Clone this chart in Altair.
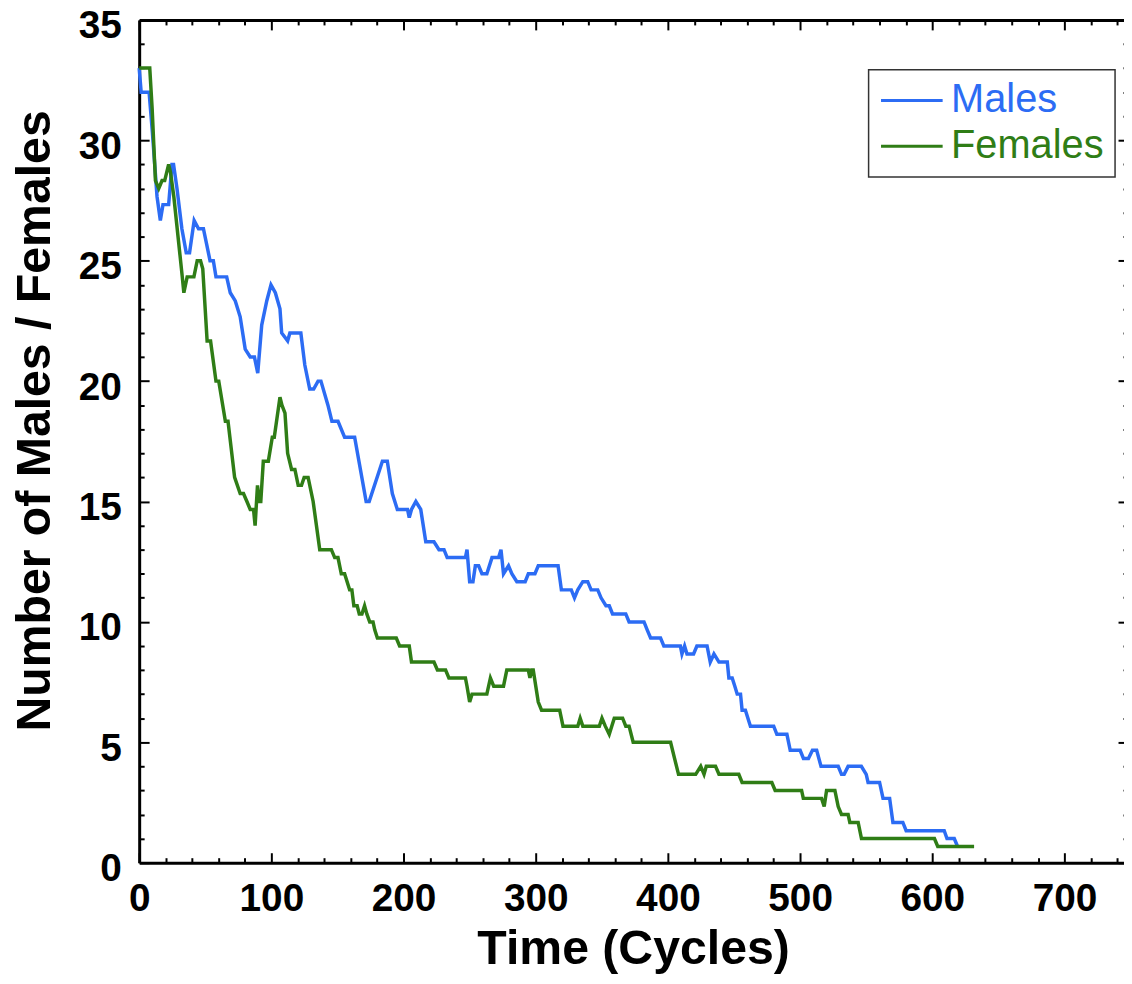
import altair as alt
import pandas as pd

# ---- data ----
males_t = [0, 1.5, 7.5, 10, 13.5, 16, 18, 22.3, 24.8, 26, 28.6, 32.3, 35.6, 38.1, 41.6, 44.9,
           48.6, 51.1, 53.6, 56.1, 58.1, 66.2, 68.9, 72.7, 76.4, 80.2, 84, 87.2, 89.7, 92.7,
           96.5, 99.7, 103, 106.5, 107.8, 112.3, 114, 122.3, 125.3, 129, 132, 135.3, 137.5,
           142.8, 145.8, 150.4, 155.4, 163, 171.7, 174, 184, 187.7, 191.5, 195.3, 203, 204.3,
           206, 209.3, 213, 216.8, 223, 226.8, 230.6, 233, 246.8, 248, 250, 252.5, 254.3, 256.8,
           259.3, 263, 266.9, 271.9, 273.7, 275.6, 279.4, 281.9, 285.7, 292, 294.4, 299.4, 301.9,
           316.9, 319.4, 326.9, 329.3, 331.8, 335.6, 339.3, 341.9, 346.9, 349.4, 353.1, 355.6,
           358.1, 368.1, 370.6, 381.9, 384.3, 386.9, 394.4, 396.9, 409.4, 410.6, 412.6, 414.4,
           419.4, 421.9, 429.6, 432, 434.8, 438.6, 444.9, 446.1, 448.6, 450.6, 452.4, 454.9,
           456.1, 458.6, 462.4, 480, 482.4, 490, 492.5, 500, 502.5, 506.3, 509.3, 512.5, 515.8,
           528.8, 531.3, 533.3, 536.3, 546.3, 550, 551.4, 560.1, 562.7, 567.7, 570.2, 577.7,
           580.2, 609, 611.1, 616.6, 619.1]
males_n = [33, 32, 32, 30.33, 27.67, 26.67, 27.33, 27.33, 29, 29, 28, 26.33, 25.33, 25.33, 26.67,
           26.33, 26.33, 25.67, 25, 25, 24.33, 24.33, 23.67, 23.33, 22.67, 21.33, 21, 21, 20.33,
           22.33, 23.33, 24, 23.67, 23, 22, 21.67, 22, 22, 20.67, 19.67, 19.67, 20, 20, 19, 18.33,
           18.33, 17.67, 17.67, 15, 15, 16.67, 16.67, 15.33, 14.67, 14.67, 14.33, 14.67, 15, 14.67,
           13.33, 13.33, 13, 13, 12.67, 12.67, 13, 11.67, 11.67, 12.33, 12.33, 12, 12, 12.67, 12.67,
           13, 12, 12.33, 12, 11.67, 11.67, 12, 12, 12.33, 12.33, 11.33, 11.33, 11, 11.33, 11.67,
           11.67, 11.33, 11.33, 11, 10.67, 10.67, 10.33, 10.33, 10, 10, 9.67, 9.33, 9.33, 9, 9,
           8.67, 9, 8.67, 8.67, 9, 9, 8.33, 8.67, 8.33, 8.33, 7.67, 7.67, 7.33, 7, 7, 6.33, 6.33,
           5.67, 5.67, 5.33, 5.33, 4.67, 4.67, 4.33, 4.33, 4.67, 4.67, 4, 4, 3.67, 3.67, 4, 4, 3.67,
           3.33, 3.33, 2.67, 2.67, 1.67, 1.67, 1.33, 1.33, 1, 1, 0.67]

females_t = [0, 8, 9.8, 12.3, 14.8, 17.3, 19.3, 22.3, 23.7, 26.2, 32.6, 33.8, 36.3, 41.4, 43.9,
             46.4, 48.1, 51.4, 54, 58.1, 60.2, 65.2, 67.2, 72.2, 76.4, 78.9, 81.5, 84, 86.5, 87.7,
             89.5, 90.7, 92, 93.9, 97.7, 100.7, 102.2, 106.5, 108, 110.3, 112.3, 115.3, 117.8,
             120.3, 122.8, 124.8, 127.8, 131.6, 136.6, 145.4, 147.9, 150.4, 152.9, 155.4, 159.2,
             160.9, 162.4, 164.9, 166.5, 168.5, 170.5, 172.2, 174.4, 176.9, 178.2, 180.2, 194.5,
             197, 204.3, 206, 223, 225.6, 231.8, 234.3, 246.8, 248, 250, 251.8, 263, 265.7, 268.2,
             275.6, 278.1, 294.4, 295.6, 296.9, 298.1, 301.9, 304.4, 318.1, 320.6, 331.8, 333.6,
             335.6, 348.1, 350.1, 352.6, 355.6, 359.4, 365.7, 368.1, 370.6, 373.7, 402, 405, 408,
             421, 424.8, 427.3, 429, 436, 438.6, 453.6, 456.1, 478.6, 481.1, 501.1, 502.4, 516.2,
             518.2, 520, 526.3, 528.8, 531.3, 536.3, 537.6, 543.9, 546.4, 601.6, 604.1, 631.6]
females_n = [33, 33, 31.33, 28.33, 28, 28.33, 28.33, 29, 28.67, 27.67, 24.33, 23.67, 24.33, 24.33,
             25, 25, 24.67, 21.67, 21.67, 20, 20, 18.33, 18.33, 16, 15.33, 15.33, 15, 14.67, 14.67,
             14, 15.67, 15, 15, 16.67, 16.67, 17.67, 17.67, 19.33, 19, 18.67, 17, 16.33, 16.33,
             15.67, 15.67, 16, 16, 15, 13, 13, 12.67, 12.67, 12, 12, 11.33, 11.33, 10.67, 10.67,
             10.33, 10.33, 10.67, 10.33, 10, 10, 9.67, 9.33, 9.33, 9, 9, 8.33, 8.33, 8, 8, 7.67,
             7.67, 7.33, 6.67, 7, 7, 7.67, 7.33, 7.33, 8, 8, 7.67, 8, 8, 6.67, 6.33, 6.33, 5.67,
             5.67, 6, 5.67, 5.67, 6, 5.67, 5.33, 6, 6, 5.67, 5.67, 5, 5, 4.33, 3.67, 3.67, 4, 3.67,
             4, 4, 3.67, 3.67, 3.33, 3.33, 3, 3, 2.67, 2.67, 2.33, 3, 3, 2.33, 2, 2, 1.67, 1.67, 1,
             1, 0.67, 0.67]

series_names = ["Males", "Females"]
series_colors = ["#2c6cf4", "#2f7d16"]

x_major = [0, 100, 200, 300, 400, 500, 600, 700]
x_minor = [v for v in range(20, 760, 20) if v % 100 != 0]
y_major = [0, 5, 10, 15, 20, 25, 30, 35]
y_minor = [v for v in range(1, 35) if v % 5 != 0]

rows = [{"t": t, "n": n, "series": "Males"} for t, n in zip(males_t, males_n)]
rows += [{"t": t, "n": n, "series": "Females"} for t, n in zip(females_t, females_n)]
df = pd.DataFrame(rows)

W = 991
H = 848
FONT = "Liberation Sans"

xscale = alt.Scale(domain=[0, 745], nice=False, zero=False)
yscale = alt.Scale(domain=[0, 35], nice=False, zero=False)

main = alt.Chart(df).mark_line(strokeWidth=3.5).encode(
    x=alt.X("t:Q", scale=xscale, axis=alt.Axis(
        orient="bottom", values=x_major, title="Time (Cycles)", ticks=False, tickSize=0,
        labelPadding=17, labelFlush=False, labelOverlap=False, domain=True,
        titleBaseline="alphabetic", titleY=101, titleX=497, grid=False)),
    y=alt.Y("n:Q", scale=yscale, axis=alt.Axis(
        orient="left", values=y_major, title="Number of Males / Females", ticks=False,
        tickSize=0, labelPadding=18, labelOffset=6, labelFlush=False, labelOverlap=False,
        domain=True, titleX=-90, titleY=403, titleAngle=270, titleAlign="center",
        titleBaseline="alphabetic", grid=False)),
    color=alt.Color("series:N", scale=alt.Scale(domain=series_names, range=series_colors),
                    legend=alt.Legend(
                        title=None, orient="none", legendX=734, legendY=50,
                        symbolType="stroke", symbolSize=3844, symbolStrokeWidth=3,
                        labelFont=FONT, labelFontSize=40, labelFontWeight="normal",
                        labelColor={"expr": "datum.label == 'Males' ? '#2c6cf4' : '#2f7d16'"},
                        labelOffset=7, padding=11, rowPadding=6, clipHeight=40,
                        strokeColor="#333333")),
)


def tick_layer(xo, xoff, xv, yo, yoff, yv, size, xdomain):
    return alt.Chart(df).mark_line(strokeOpacity=0).encode(
        x=alt.X("t:Q", scale=xscale, axis=alt.Axis(
            orient=xo, offset=xoff, values=xv, tickSize=size, labels=False,
            domain=xdomain, title=None, grid=False)),
        y=alt.Y("n:Q", scale=yscale, axis=alt.Axis(
            orient=yo, offset=yoff, values=yv, tickSize=size, labels=False,
            domain=False, title=None, grid=False)),
        detail="series:N",
    )


l1 = tick_layer("top", -H, x_major, "right", -W, y_major, 10, False)
l2 = tick_layer("top", -H, x_minor, "right", -W, y_minor, 5, False)
l3 = tick_layer("bottom", -H, x_major, "left", -(W + 4), y_major, 10, True)
l4 = tick_layer("bottom", -H, x_minor, "left", -(W + 4), y_minor, 5, False)

chart = alt.layer(main, l1, l2, l3, l4).resolve_axis(
    x="independent", y="independent"
).properties(
    width=W, height=H, autosize="none",
    padding={"left": 132, "top": 9, "right": 0, "bottom": 110},
).configure_axis(
    labelFont=FONT, labelFontWeight="bold", labelFontSize=39, labelColor="black",
    titleFont=FONT, titleFontWeight="bold", titleFontSize=48.5, titleColor="black",
    domainColor="black", domainWidth=3, tickColor="black", tickWidth=2, grid=False,
).configure_legend(strokeWidth=1.5).configure_view(stroke=None)

chart.save("out.html", embed_options={"renderer": "svg", "actions": False})
